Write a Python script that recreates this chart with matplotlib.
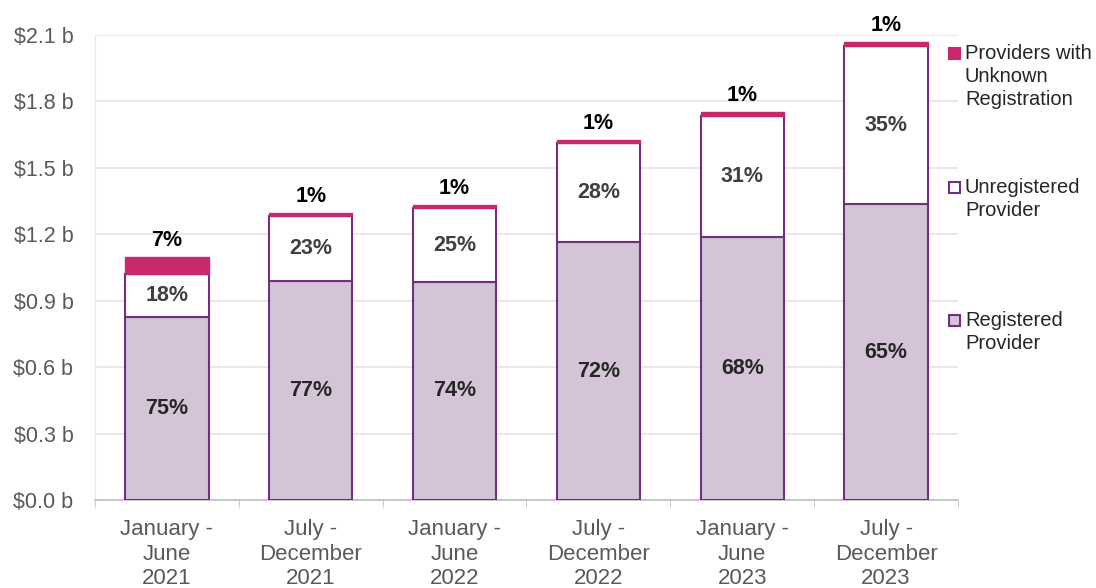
import matplotlib
matplotlib.use("Agg")
import matplotlib.pyplot as plt
from matplotlib.patches import Rectangle
import numpy as np

plt.rcParams['font.family'] = ['Liberation Sans', 'DejaVu Sans']

periods = ["January -\nJune\n2021", "July -\nDecember\n2021", "January -\nJune\n2022",
           "July -\nDecember\n2022", "January -\nJune\n2023", "July -\nDecember\n2023"]
# spend in $ billions
registered = [0.825, 0.990, 0.985, 1.165, 1.188, 1.336]
unregistered = [0.195, 0.292, 0.332, 0.448, 0.546, 0.715]
unknown = [0.077, 0.012, 0.015, 0.012, 0.018, 0.017]
yticks = [0.0, 0.3, 0.6, 0.9, 1.2, 1.5, 1.8, 2.1]

purple = '#70307F'
lilac = '#D5C4D8'
magenta = '#C8286E'

fig = plt.figure(figsize=(10.96, 5.88), dpi=100)
ax = fig.add_axes([95 / 1096, 1 - 500 / 588, (958 - 95) / 1096, 465 / 588])

x = np.arange(len(periods))
reg = np.array(registered)
unreg = np.array(unregistered)
unk = np.array(unknown)
total = reg + unreg + unk
w = 0.58

ax.bar(x, reg, w, color=lilac, edgecolor=purple, linewidth=1.5, zorder=3)
ax.bar(x, unreg, w, bottom=reg, color='white', edgecolor=purple, linewidth=1.5, zorder=3)
ax.bar(x, unk, w, bottom=reg + unreg, color=magenta, edgecolor=magenta, linewidth=1, zorder=4)

for i in range(len(x)):
    ax.text(x[i], reg[i] / 2, f"{round(reg[i] / total[i] * 100)}%", ha='center', va='center',
            fontsize=15.5, fontweight='bold', color='#262626', zorder=5)
    ax.text(x[i], reg[i] + unreg[i] / 2, f"{round(unreg[i] / total[i] * 100)}%", ha='center',
            va='center', fontsize=15.5, fontweight='bold', color='#404040', zorder=5)
    ax.annotate(f"{round(unk[i] / total[i] * 100)}%", (x[i], total[i]), xytext=(0, 12),
                textcoords='offset points', ha='center', va='center', fontsize=15.5,
                fontweight='bold', color='black', annotation_clip=False)

ax.set_xlim(-0.5, len(x) - 0.5)
ax.set_ylim(0, 2.1)
ax.set_yticks(yticks)
ax.set_yticklabels([f"${v:.1f} b" for v in yticks])
ax.set_xticks(x)
ax.set_xticklabels(periods, linespacing=1.24)
ax.set_xticks(np.arange(-0.5, len(x), 1), minor=True)
ax.tick_params(axis='x', which='major', length=0, pad=13.5, labelsize=16, labelcolor='#595959')
ax.tick_params(axis='x', which='minor', length=5, color='#BFBFBF')
ax.tick_params(axis='y', length=0, pad=15.5, labelsize=15.5, labelcolor='#595959')
ax.grid(axis='y', color='#E6E6E6', linewidth=1.3, zorder=0)
ax.set_axisbelow(True)
for s in ['top', 'right']:
    ax.spines[s].set_visible(False)
ax.spines['left'].set_color('#E6E6E6')
ax.spines['bottom'].set_color('#BFBFBF')
ax.spines['bottom'].set_linewidth(1.2)

# legend drawn by hand on the right side
legend_items = [("Providers with\nUnknown\nRegistration", magenta, magenta, 53),
                ("Unregistered\nProvider", 'white', purple, 187),
                ("Registered\nProvider", lilac, purple, 320)]
for label, fc, ec, ypix in legend_items:
    fig.patches.append(Rectangle((949 / 1096, 1 - (ypix + 6) / 588), 11 / 1096, 11 / 588,
                                 transform=fig.transFigure, facecolor=fc, edgecolor=ec,
                                 linewidth=1.5))
    fig.text(965 / 1096, 1 - (ypix - 9) / 588, label, ha='left', va='top', fontsize=14.5,
             color='#262626', linespacing=1.26)

fig.savefig("out.png", dpi=100)
